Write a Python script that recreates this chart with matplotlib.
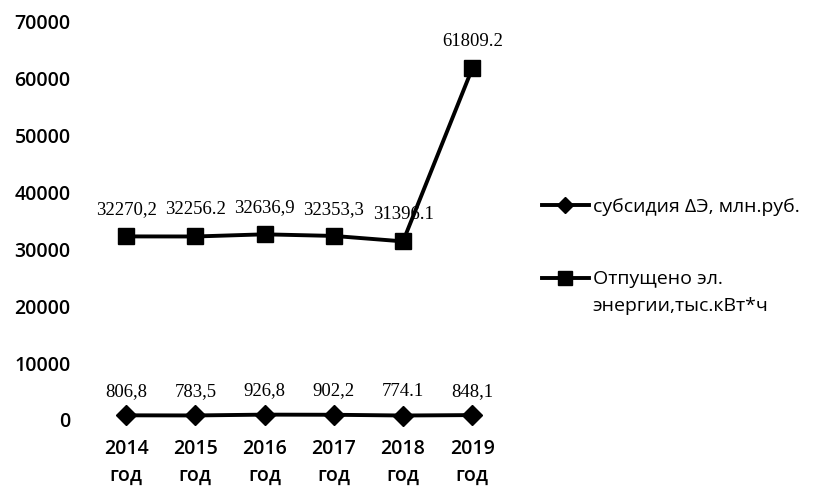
import numpy as np
import matplotlib.pyplot as plt
import matplotlib

matplotlib.rcParams["font.family"] = ["Open Sans", "DejaVu Sans"]

years = ["2014\nгод", "2015\nгод", "2016\nгод", "2017\nгод", "2018\nгод", "2019\nгод"]
subsidy = [806.8, 783.5, 926.8, 902.2, 774.1, 848.1]
subsidy_lbl = ["806,8", "783,5", "926,8", "902,2", "774.1", "848,1"]
energy = [32270.2, 32256.2, 32636.9, 32353.3, 31396.1, 61809.2]
energy_lbl = ["32270,2", "32256.2", "32636,9", "32353,3", "31396.1", "61809.2"]
yticks = [0, 10000, 20000, 30000, 40000, 50000, 60000, 70000]

W, H = 813, 486
fig = plt.figure(figsize=(W / 100, H / 100), dpi=100)
ax = fig.add_axes([0.1125, 0.136, 0.511, 0.819])

x = np.arange(len(years))
ax.plot(x, subsidy, color="black", lw=2.8, marker="D", ms=10, clip_on=False,
        label="субсидия ΔЭ, млн.руб.")
ax.plot(x, energy, color="black", lw=2.8, marker="s", ms=12, clip_on=False,
        label="Отпущено эл.")

# подписи значений
for xi, v, s in zip(x, subsidy, subsidy_lbl):
    ax.annotate(s, (xi, v), xytext=(0, 11), textcoords="offset points",
                ha="center", va="bottom", family="Liberation Serif", fontsize=13.5)
for xi, v, s in zip(x, energy, energy_lbl):
    ax.annotate(s, (xi, v), xytext=(0, 13), textcoords="offset points",
                ha="center", va="bottom", family="Liberation Serif", fontsize=13.5)

ax.set_xlim(-0.5, 5.5)
ax.set_ylim(0, 70000)
ax.set_xticks(x)
ax.set_xticklabels(years, fontweight="semibold", fontsize=14, linespacing=1.45)
ax.set_yticks(yticks)
ax.set_yticklabels([str(t) for t in yticks], fontweight="semibold", fontsize=14)
ax.tick_params(length=0, axis="y", pad=15)
ax.tick_params(length=0, axis="x", pad=14)
for sp in ax.spines.values():
    sp.set_visible(False)

leg = fig.legend(loc="upper left", bbox_to_anchor=(542 / W, 1 - 198 / H),
                 frameon=False, fontsize=14, handlelength=2.4, handletextpad=0.2,
                 labelspacing=2.8, borderpad=0, borderaxespad=0, markerscale=0.85)
fig.text(592 / W, 1 - 306 / H, "энергии,тыс.кВт*ч", fontsize=14, va="center", ha="left")

plt.savefig("out.png", dpi=100)
